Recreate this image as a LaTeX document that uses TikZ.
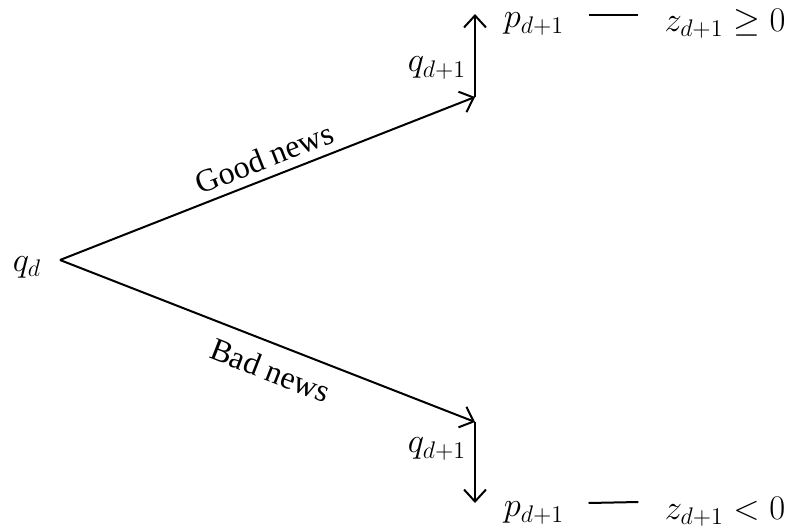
\documentclass[tikz,border=0pt]{standalone}
\usepackage{fontspec}
\setmainfont{Liberation Serif}
\usetikzlibrary{arrows.meta}
\tikzset{
  lab/.style={font=\fontsize{16}{19}\selectfont,inner sep=0pt},
  mlab/.style={font=\fontsize{17.5}{21}\selectfont,inner sep=0pt},
  branch/.style={line width=1pt,draw=black,-{Straight Barb[length=6pt,width=11pt]}},
  tie/.style={line width=1pt,draw=black}
}
\begin{document}
\begin{tikzpicture}[x=0.5pt,y=-0.5pt]
  \useasboundingbox (0,0) rectangle (794,531);

  % root and fork points
  \node[mlab] (qd) at (27,267) {$q_d$};
  \coordinate (root) at (60,260);
  \coordinate (up) at (475,97);
  \coordinate (dn) at (475,422);
  \coordinate (uptip) at (475,14);
  \coordinate (dntip) at (475,503);

  \draw[branch] (root) -- node[lab,sloped,above=4pt,pos=0.51] {Good news} (up);
  \draw[branch] (root) -- node[lab,sloped,below=7pt,pos=0.53] {Bad news} (dn);
  \draw[branch] (up) -- (uptip);
  \draw[branch] (dn) -- (dntip);

  \node[mlab] (qu) at (437,68) {$q_{d+1}$};
  \node[mlab] (ql) at (437,449) {$q_{d+1}$};

  % outcomes
  \node[mlab] (pu) at (534,24) {$p_{d+1}$};
  \node[mlab] (zu) at (725,24) {$z_{d+1}\geq 0$};
  \node[mlab] (pl) at (534,513) {$p_{d+1}$};
  \node[mlab] (zl) at (725,512) {$z_{d+1}< 0$};

  \draw[tie] ([xshift=12pt,yshift=4.5pt]pu.east) -- ([xshift=-13pt,yshift=4.5pt]zu.west);
  \draw[tie] ([xshift=12pt,yshift=5pt]pl.east) -- ([xshift=-13pt,yshift=5pt]zl.west);
\end{tikzpicture}
\end{document}
